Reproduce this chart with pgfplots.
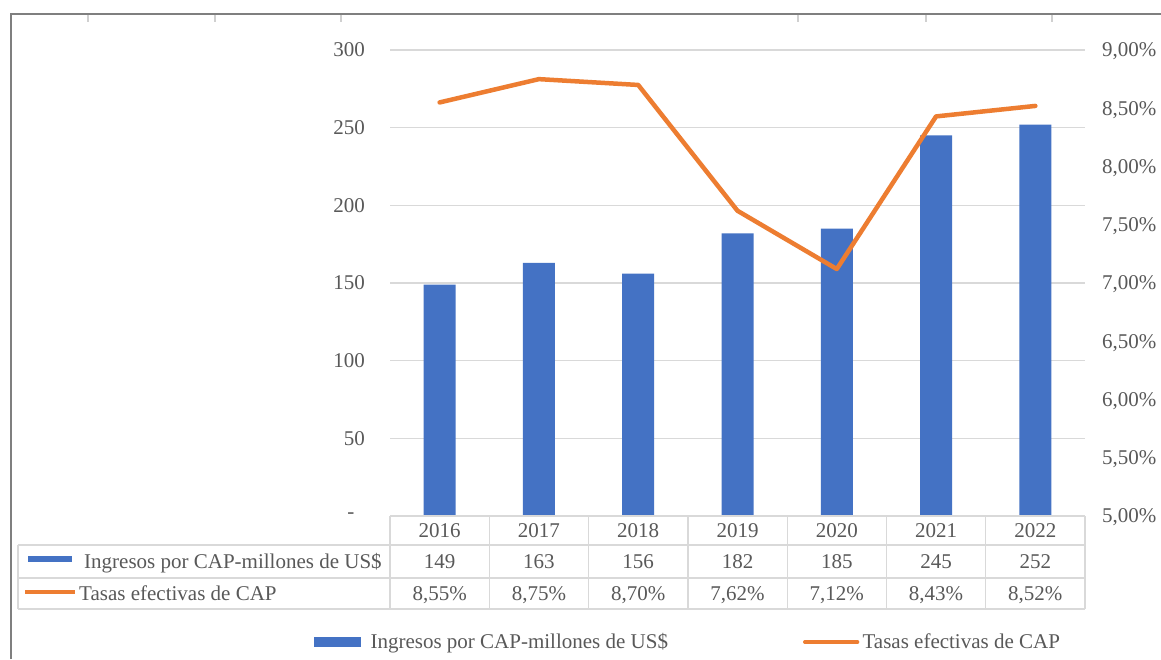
\documentclass[border=0pt]{standalone}
\usepackage{fontspec}
\setmainfont{Liberation Serif}
\usepackage{pgfplots}
\pgfplotsset{compat=1.18}
\definecolor{barblue}{HTML}{4472C4}
\definecolor{lineorange}{HTML}{ED7D31}
\definecolor{gridgray}{HTML}{D9D9D9}
\definecolor{textgray}{HTML}{595959}
\definecolor{framegray}{HTML}{7F7F7F}
\definecolor{tickgray}{HTML}{D0D0D0}
\newcommand\cf{\fontsize{21pt}{25pt}\selectfont}

\begin{document}
\begin{tikzpicture}
\useasboundingbox (0pt,0pt) rectangle (1161pt,-659pt);
\fill[white] (0pt,0pt) rectangle (1161pt,-659pt);
% outer frame
\draw[framegray, line width=1.5pt] (11pt,-659pt) -- (11pt,-14pt) -- (1161pt,-14pt);
\foreach \x in {88,215,341,798,926,1052}
  \draw[tickgray, line width=1.5pt] (\x pt,-14.75pt) -- (\x pt,-22pt);

% bars (left axis)
\begin{axis}[
  at={(390pt,-516pt)}, anchor=south west,
  scale only axis, width=695pt, height=466pt,
  xmin=-0.5, xmax=6.5, ymin=0, ymax=300,
  xtick=\empty,
  ytick={0,50,100,150,200,250,300},
  yticklabels={{-\hphantom{0}},50,100,150,200,250,300},
  axis line style={draw=none},
  major tick length=0pt,
  ymajorgrids,
  grid style={gridgray, line width=1.3pt},
  yticklabel style={font=\cf, text=textgray, anchor=east, inner sep=0pt, xshift=-25pt, text depth=0pt},
  clip=false,
]
\addplot[ybar, bar width=32pt, fill=barblue, draw=none]
  coordinates {(0,149) (1,163) (2,156) (3,182) (4,185) (5,245) (6,252)};
\end{axis}

% line (right axis)
\begin{axis}[
  at={(390pt,-516pt)}, anchor=south west,
  scale only axis, width=695pt, height=466pt,
  xmin=-0.5, xmax=6.5, ymin=5, ymax=9,
  axis x line=none,
  axis y line*=right,
  axis line style={draw=none},
  xtick=\empty,
  ytick={5,5.5,6,6.5,7,7.5,8,8.5,9},
  yticklabels={{5,00\%},{5,50\%},{6,00\%},{6,50\%},{7,00\%},{7,50\%},{8,00\%},{8,50\%},{9,00\%}},
  major tick length=0pt,
  yticklabel style={font=\cf, text=textgray, anchor=west, inner sep=0pt, xshift=17pt, text depth=0pt},
  clip=false,
  legend columns=2,
  legend style={at={(axis description cs:-0.10935,-0.2704)}, anchor=west,
    draw=none, fill=none, inner sep=0pt, font=\cf, text=textgray,
    nodes={inner sep=0pt},
    /tikz/every odd column/.append style={column sep=10pt},
    /tikz/every even column/.append style={column sep=135pt}},
]
\addlegendimage{legend image code/.code={\fill[barblue] (0pt,-4.5pt) rectangle (46pt,4.5pt);}}
\addlegendentry{Ingresos por CAP-millones de US\$}
\addplot[lineorange, line width=4.5pt, line join=round, line cap=round, mark=none,
  legend image code/.code={\path (0pt,0pt) -- (45pt,0pt); \draw[lineorange, line width=4pt, overlay] (0pt,0pt) -- (52pt,0pt);}]
  coordinates {(0,8.55) (1,8.75) (2,8.70) (3,7.62) (4,7.12) (5,8.43) (6,8.52)};
\addlegendentry{Tasas efectivas de CAP}
\end{axis}

% data table
\begin{scope}[gridgray, line width=1.3pt]
  \draw (390pt,-516pt) -- (1085pt,-516pt);
  \foreach \y in {545,578,609} \draw (18pt,-\y pt) -- (1085pt,-\y pt);
  \draw (18pt,-545pt) -- (18pt,-609pt);
  \foreach \k in {0,...,7} {
    \pgfmathsetmacro\xx{390+99.2857*\k}
    \draw (\xx pt,-516pt) -- (\xx pt,-609pt);
  }
\end{scope}
\foreach \yr/\v/\r [count=\i from 0] in {2016/149/{8,55\%},2017/163/{8,75\%},2018/156/{8,70\%},2019/182/{7,62\%},2020/185/{7,12\%},2021/245/{8,43\%},2022/252/{8,52\%}} {
  \pgfmathsetmacro\xx{439.64+99.2857*\i}
  \node[font=\cf, text=textgray, anchor=base, inner sep=0pt] at (\xx pt,-537.5pt) {\yr};
  \node[font=\cf, text=textgray, anchor=base, inner sep=0pt] at (\xx pt,-568.5pt) {\v};
  \node[font=\cf, text=textgray, anchor=base, inner sep=0pt] at (\xx pt,-600.5pt) {\r};
}
\fill[barblue] (28pt,-555.5pt) rectangle (72pt,-561.5pt);
\node[font=\cf, text=textgray, anchor=base west, inner sep=0pt] at (84pt,-568.5pt) {Ingresos por CAP-millones de US\$};
\draw[lineorange, line width=4pt] (25pt,-591.5pt) -- (75pt,-591.5pt);
\node[font=\cf, text=textgray, anchor=base west, inner sep=0pt] at (79pt,-600.5pt) {Tasas efectivas de CAP};
\end{tikzpicture}
\end{document}
